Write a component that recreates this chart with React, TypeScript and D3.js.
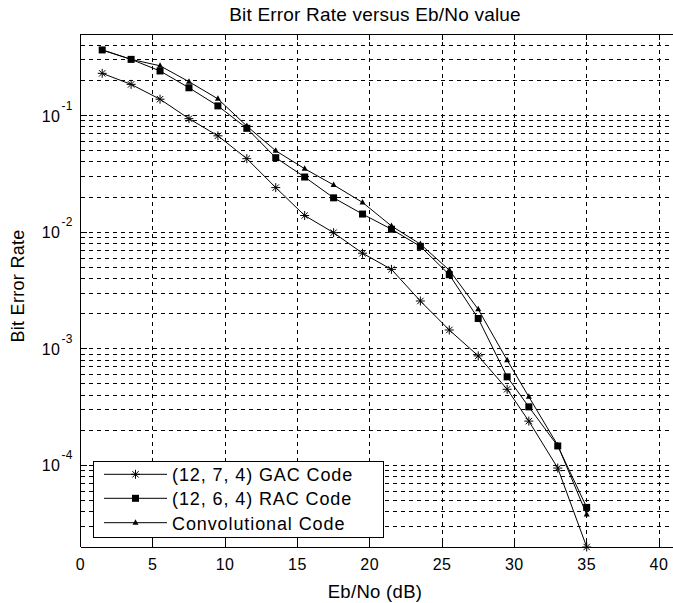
import React from "react";
import * as d3 from "d3";

const ebno = [1.5, 3.5, 5.5, 7.5, 9.5, 11.5, 13.5, 15.5, 17.5, 19.5, 21.5, 23.5, 25.5, 27.5, 29.5, 31, 33, 35];
const gacBer = [0.23, 0.185, 0.138, 0.094, 0.067, 0.0427, 0.0241, 0.0139, 0.0099, 0.0066, 0.0048, 0.00257, 0.00145, 0.00087, 0.00045, 0.00024, 0.000095, 0.00002];
const racBer = [0.365, 0.303, 0.241, 0.173, 0.121, 0.0777, 0.0435, 0.0297, 0.0197, 0.0143, 0.0106, 0.00755, 0.00432, 0.00182, 0.000575, 0.000318, 0.000147, 0.0000437];
const convBer = [0.365, 0.303, 0.267, 0.195, 0.139, 0.0812, 0.0499, 0.035, 0.0254, 0.018, 0.0113, 0.0079, 0.00473, 0.00218, 0.0008, 0.000388, 0.000149, 0.000038];
const seriesNames = ["(12, 7, 4) GAC Code", "(12, 6, 4) RAC Code", "Convolutional Code"];
const xTicks = [0, 5, 10, 15, 20, 25, 30, 35, 40];
const yDecades = [-1, -2, -3, -4];

const FONT = "'Liberation Sans', Arial, Helvetica, sans-serif";

export default function App() {
  const W = 673, H = 603;
  const left = 80.5, top = 34, bottom = 547, rightEdge = 680;
  const x = d3.scaleLinear().domain([0, 40]).range([left, 659]);
  const y = d3.scaleLog().domain([2e-5, 0.5]).range([bottom, top]);

  const minorVals: number[] = [];
  for (let e = -5; e <= -1; e++) {
    for (let k = 1; k <= 9; k++) {
      const v = k * Math.pow(10, e);
      if (v > 2.0001e-5 && v < 0.4999) minorVals.push(v);
    }
  }

  const line = d3.line<[number, number]>().x(d => x(d[0])).y(d => y(d[1]));
  const toPts = (arr: number[]) => ebno.map((e, i) => [e, arr[i]] as [number, number]);
  const series = [gacBer, racBer, convBer].map(toPts);

  const star = (cx: number, cy: number, key: string) => {
    const r = 4.5, d = 3.2;
    return (
      <g key={key} stroke="#000" strokeWidth={1}>
        <line x1={cx - r} y1={cy} x2={cx + r} y2={cy} />
        <line x1={cx} y1={cy - r} x2={cx} y2={cy + r} />
        <line x1={cx - d} y1={cy - d} x2={cx + d} y2={cy + d} />
        <line x1={cx - d} y1={cy + d} x2={cx + d} y2={cy - d} />
      </g>
    );
  };
  const square = (cx: number, cy: number, key: string) => (
    <rect key={key} x={cx - 3.5} y={cy - 3.5} width={7} height={7} fill="#000" />
  );
  const tri = (cx: number, cy: number, key: string) => (
    <path key={key} d={`M${cx},${cy - 3.5}L${cx + 3},${cy + 2}L${cx - 3},${cy + 2}Z`} fill="#000" />
  );
  const markers = [star, square, tri];

  const dash = "4,4";
  const legendRows = [474.3, 498.3, 522.7];

  return (
    <svg width={W} height={H} style={{ display: "block", position: "absolute", left: 0, top: 0 }} fontFamily={FONT}>
      <rect x={0} y={0} width={W} height={H} fill="#fff" />
      <text x={375} y={21} textAnchor="middle" fontSize={19} letterSpacing={0.2} fill="#000">
        Bit Error Rate versus Eb/No value
      </text>
      <rect x={left} y={top} width={rightEdge - left} height={bottom - top} fill="#fff" />
      {/* grid */}
      <g stroke="#000" strokeWidth={1} strokeDasharray={dash} shapeRendering="crispEdges">
        {minorVals.map((v, i) => (
          <line key={"h" + i} x1={left} x2={rightEdge} y1={y(v)} y2={y(v)} />
        ))}
        {xTicks.filter(t => t > 0).map(t => (
          <line key={"v" + t} x1={x(t)} x2={x(t)} y1={top} y2={bottom} />
        ))}
      </g>
      {/* ticks */}
      <g stroke="#000" strokeWidth={1} shapeRendering="crispEdges">
        {xTicks.map(t => (
          <g key={"xt" + t}>
            <line x1={x(t)} x2={x(t)} y1={bottom} y2={bottom - 6} />
            <line x1={x(t)} x2={x(t)} y1={top} y2={top + 6} />
          </g>
        ))}
        {minorVals.map((v, i) => {
          const major = Math.abs(Math.log10(v) - Math.round(Math.log10(v))) < 1e-6;
          return <line key={"yt" + i} x1={left} x2={left + (major ? 6 : 3)} y1={y(v)} y2={y(v)} />;
        })}
      </g>
      {/* axes lines */}
      <g stroke="#000" strokeWidth={1} shapeRendering="crispEdges" fill="none">
        <line x1={left} x2={rightEdge} y1={top} y2={top} />
        <line x1={left} x2={rightEdge} y1={bottom} y2={bottom} />
        <line x1={left} x2={left} y1={top} y2={bottom} />
      </g>
      {/* data */}
      <g>
        {series.map((pts, si) => (
          <path key={"s" + si} d={line(pts) || ""} fill="none" stroke="#000" strokeWidth={1} />
        ))}
        {series.map((pts, si) => pts.map((p, i) => markers[si](x(p[0]), y(p[1]), `m${si}-${i}`)))}
      </g>
      {/* x tick labels */}
      {xTicks.map(t => (
        <text key={"xl" + t} x={x(t)} y={570} textAnchor="middle" fontSize={16} letterSpacing={0.5} fill="#000">
          {t}
        </text>
      ))}
      {/* y tick labels */}
      {yDecades.map(e => (
        <g key={"yl" + e}>
          <text x={60.5} y={y(Math.pow(10, e)) + 6} textAnchor="end" fontSize={16} letterSpacing={0.5} fill="#000">
            10
          </text>
          <text x={61.5} y={y(Math.pow(10, e)) - 6} textAnchor="start" fontSize={12} letterSpacing={0.3} fill="#000">
            {String(e)}
          </text>
        </g>
      ))}
      {/* axis labels */}
      <text x={375} y={598} textAnchor="middle" fontSize={18.5} letterSpacing={0.3} fill="#000">
        Eb/No (dB)
      </text>
      <text transform={`translate(24,286) rotate(-90)`} textAnchor="middle" fontSize={18} letterSpacing={0.3} fill="#000">
        Bit Error Rate
      </text>
      {/* legend */}
      <g>
        <rect x={93} y={461} width={290} height={76} fill="#fff" stroke="#000" strokeWidth={1} shapeRendering="crispEdges" />
        {seriesNames.map((name, i) => (
          <g key={"lg" + i}>
            <line x1={104} x2={167} y1={legendRows[i]} y2={legendRows[i]} stroke="#000" strokeWidth={1} />
            {markers[i](135.5, legendRows[i], "lm" + i)}
            <text x={172} y={legendRows[i] + 7} fontSize={18} letterSpacing={0.9} fill="#000">
              {name}
            </text>
          </g>
        ))}
      </g>
    </svg>
  );
}
